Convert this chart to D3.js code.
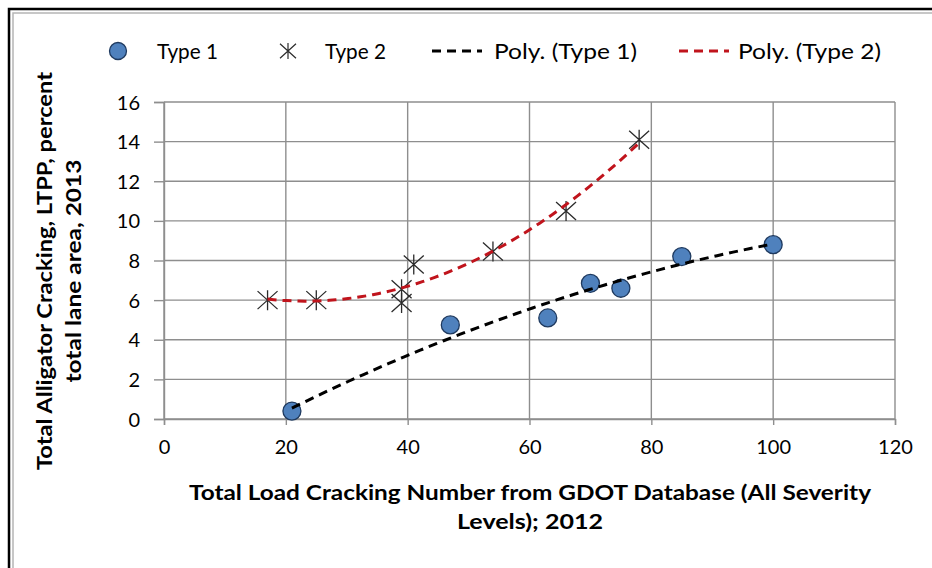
<!DOCTYPE html>
<html>
<head>
<meta charset="utf-8">
<script src="https://cdn.jsdelivr.net/npm/d3@7"></script>
<style>
  html, body { margin: 0; padding: 0; background: #fff; }
  svg { display: block; }
  text { font-family: Lato, "Open Sans", "Noto Sans", sans-serif; fill: #000; }
</style>
</head>
<body>
<svg id="chart" width="932" height="568"></svg>
<script>
// Type 1 sections: [load cracking number, alligator cracking %]
const type1 = [[21, 0.4], [47, 4.75], [63, 5.1], [70, 6.85], [75, 6.6], [85, 8.2], [100, 8.8]];
// Type 2 sections
const type2 = [[17, 6.0], [25, 6.0], [39, 6.55], [39, 5.85], [41, 7.8], [54, 8.45], [66, 10.5], [78, 14.1]];

const xTicks = [0, 20, 40, 60, 80, 100, 120];
const yTicks = [0, 2, 4, 6, 8, 10, 12, 14, 16];

const legendItems = ["Type 1", "Type 2", "Poly. (Type 1)", "Poly. (Type 2)"];
const xTitle = ["Total Load Cracking Number from GDOT Database (All Severity", "Levels); 2012"];
const yTitle = ["Total Alligator Cracking, LTPP, percent", "total lane area, 2013"];

const svg = d3.select("#chart");
const W = 932, H = 568;
const plot = { left: 164, right: 895, top: 102, bottom: 419 };

const x = d3.scaleLinear().domain([0, 120]).range([plot.left, plot.right]);
const y = d3.scaleLinear().domain([0, 16]).range([plot.bottom, plot.top]);

const gridColor = "#8e8e8e";

// outer frame (top and left edges)
svg.append("path").attr("d", `M9,${H} V9 H${W}`).attr("fill", "none").attr("stroke", "#000").attr("stroke-width", 2.5);
svg.append("path").attr("d", `M13,${H} V13 H${W}`).attr("fill", "none").attr("stroke", "#b5b5b5").attr("stroke-width", 1.5);

// gridlines
const grid = svg.append("g");
grid.selectAll("line.h").data(yTicks).join("line")
  .attr("x1", plot.left).attr("x2", plot.right)
  .attr("y1", d => y(d)).attr("y2", d => y(d))
  .attr("stroke", gridColor).attr("stroke-width", 1.4);
grid.selectAll("line.v").data(xTicks).join("line")
  .attr("y1", plot.top).attr("y2", plot.bottom)
  .attr("x1", d => x(d)).attr("x2", d => x(d))
  .attr("stroke", gridColor).attr("stroke-width", 1.4);

// axes
const xAxis = svg.append("g").attr("transform", `translate(0,${plot.bottom})`)
  .call(d3.axisBottom(x).tickValues(xTicks).tickSize(6).tickPadding(15));
const yAxis = svg.append("g").attr("transform", `translate(${plot.left},0)`)
  .call(d3.axisLeft(y).tickValues(yTicks).tickSize(10).tickPadding(14));
[xAxis, yAxis].forEach(a => {
  a.select(".domain").attr("stroke", gridColor).attr("stroke-width", 1.4);
  a.selectAll(".tick line").attr("stroke", gridColor).attr("stroke-width", 1.4);
  a.selectAll(".tick text").attr("font-size", 20).attr("fill", "#000")
    .style("font-family", 'Lato, "Open Sans", sans-serif');
});
yAxis.selectAll(".tick text").attr("dy", "0.35em");

// quadratic least-squares trendline
function polyFit2(pts) {
  let n = pts.length, sx = 0, sx2 = 0, sx3 = 0, sx4 = 0, sy = 0, sxy = 0, sx2y = 0;
  pts.forEach(([a, b]) => {
    sx += a; sx2 += a * a; sx3 += a ** 3; sx4 += a ** 4;
    sy += b; sxy += a * b; sx2y += a * a * b;
  });
  const M = [[n, sx, sx2, sy], [sx, sx2, sx3, sxy], [sx2, sx3, sx4, sx2y]];
  for (let i = 0; i < 3; i++) {
    for (let k = i + 1; k < 3; k++) {
      const f = M[k][i] / M[i][i];
      for (let j = i; j < 4; j++) M[k][j] -= f * M[i][j];
    }
  }
  const c = [0, 0, 0];
  for (let i = 2; i >= 0; i--) {
    let s = M[i][3];
    for (let j = i + 1; j < 3; j++) s -= M[i][j] * c[j];
    c[i] = s / M[i][i];
  }
  return t => c[0] + c[1] * t + c[2] * t * t;
}

function trendPath(pts) {
  const f = polyFit2(pts);
  const [lo, hi] = d3.extent(pts, d => d[0]);
  const samples = d3.range(0, 61).map(i => lo + (hi - lo) * i / 60);
  return d3.line().x(t => x(t)).y(t => y(f(t)))(samples);
}

const line1Style = { stroke: "#000", dash: "9,6" };
const line2Style = { stroke: "#c0141c", dash: "9,6" };

// star marker: X with a vertical bar
function starPath(s) {
  const h = s / 2;
  return `M${-h},${-h * 0.9}L${h},${h * 0.9}M${-h},${h * 0.9}L${h},${-h * 0.9}M0,${-h}L0,${h}`;
}

// Type 2 stars
svg.append("g").selectAll("path").data(type2).join("path")
  .attr("transform", d => `translate(${x(d[0])},${y(d[1])})`)
  .attr("d", starPath(20))
  .attr("stroke", "#2b2b2b").attr("stroke-width", 1.3).attr("fill", "none");

// Type 1 circles
svg.append("g").selectAll("circle").data(type1).join("circle")
  .attr("cx", d => x(d[0])).attr("cy", d => y(d[1])).attr("r", 9)
  .attr("fill", "#4f81bd").attr("stroke", "#1f3a5f").attr("stroke-width", 1.3);

svg.append("path").attr("d", trendPath(type1)).attr("fill", "none")
  .attr("stroke", line1Style.stroke).attr("stroke-width", 3).attr("stroke-dasharray", line1Style.dash);
svg.append("path").attr("d", trendPath(type2)).attr("fill", "none")
  .attr("stroke", line2Style.stroke).attr("stroke-width", 3).attr("stroke-dasharray", line2Style.dash);

// legend
const lg = svg.append("g").attr("font-size", 22);
const ly = 51;
const lgText = (tx, label, w) => lg.append("text").attr("x", tx).attr("y", ly).attr("dy", "0.35em")
  .attr("textLength", w).attr("lengthAdjust", "spacingAndGlyphs").text(label);
lg.append("circle").attr("cx", 118).attr("cy", ly).attr("r", 8.5)
  .attr("fill", "#4f81bd").attr("stroke", "#1f3a5f").attr("stroke-width", 1.3);
lgText(157, legendItems[0], 61);
lg.append("path").attr("transform", `translate(288,${ly})`).attr("d", starPath(16))
  .attr("stroke", "#2b2b2b").attr("stroke-width", 1.2).attr("fill", "none");
lgText(325, legendItems[1], 61);
lg.append("line").attr("x1", 432).attr("x2", 482).attr("y1", ly).attr("y2", ly)
  .attr("stroke", line1Style.stroke).attr("stroke-width", 3).attr("stroke-dasharray", "9,6");
lgText(494, legendItems[2], 143);
lg.append("line").attr("x1", 679).attr("x2", 729).attr("y1", ly).attr("y2", ly)
  .attr("stroke", line2Style.stroke).attr("stroke-width", 3).attr("stroke-dasharray", "9,6");
lgText(738, legendItems[3], 143);

// axis titles
svg.append("text").attr("font-size", 21).attr("font-weight", "bold")
  .attr("text-anchor", "middle")
  .selectAll("tspan").data(xTitle).join("tspan")
  .attr("x", 530).attr("y", (d, i) => 500 + i * 29)
  .attr("textLength", (d, i) => i === 0 ? 682 : 146).attr("lengthAdjust", "spacingAndGlyphs")
  .text(d => d);

svg.append("g").attr("transform", "translate(0,271) rotate(-90)")
  .append("text").attr("font-size", 21).attr("font-weight", "bold").attr("text-anchor", "middle")
  .selectAll("tspan").data(yTitle).join("tspan")
  .attr("x", 0).attr("y", (d, i) => 52 + i * 29)
  .attr("textLength", (d, i) => i === 0 ? 398 : 223).attr("lengthAdjust", "spacingAndGlyphs")
  .text(d => d);
</script>
</body>
</html>
